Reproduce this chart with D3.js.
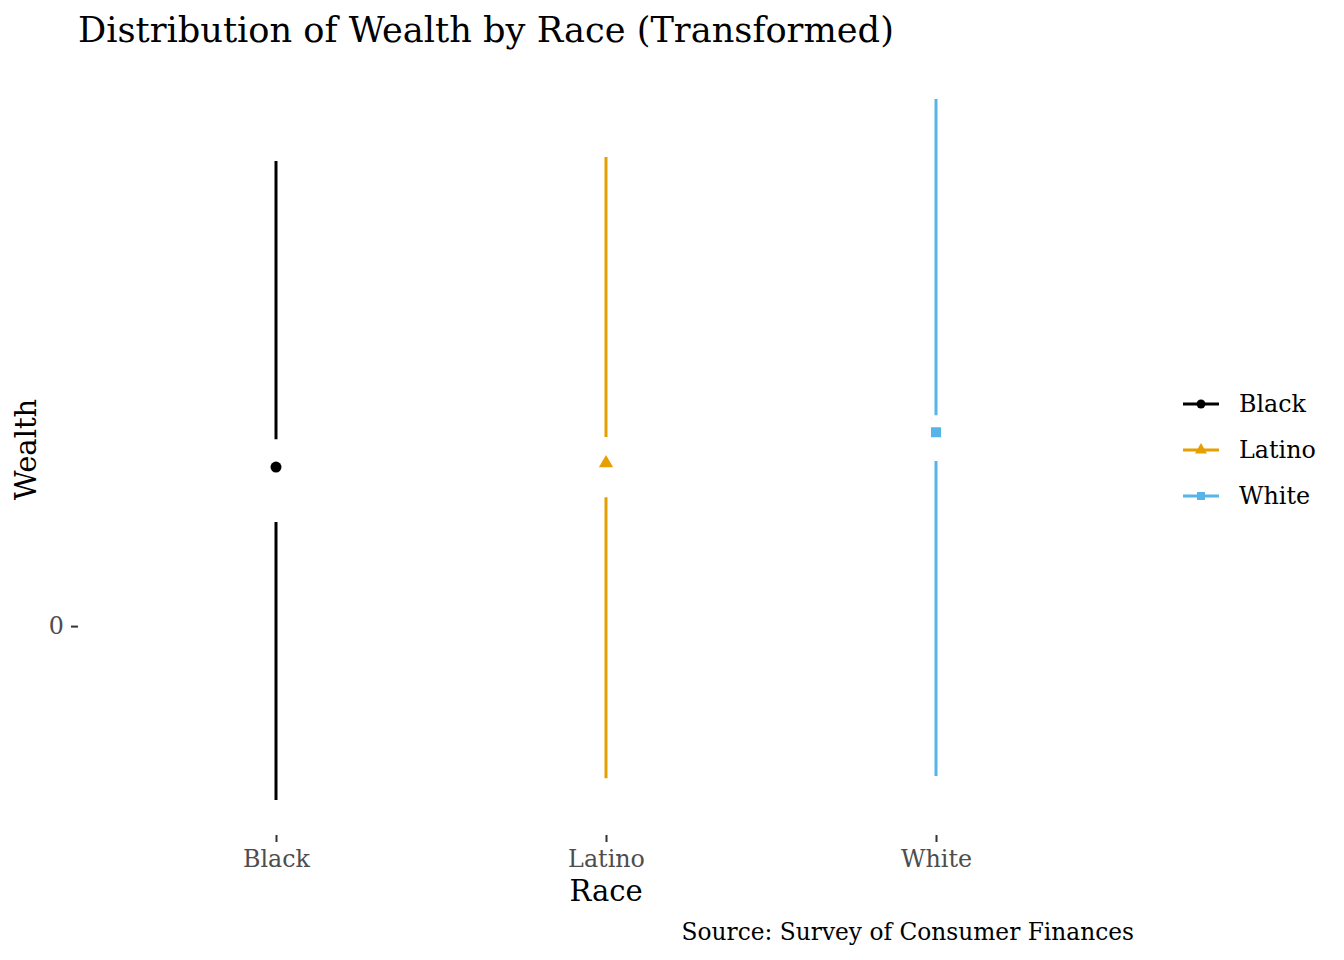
<!DOCTYPE html>
<html>
<head>
<meta charset="utf-8">
<script src="https://cdn.jsdelivr.net/npm/d3@7"></script>
<style>
  body { margin: 0; background: #fff; }
  svg text { font-family: "DejaVu Serif", serif; }
  .axis path.domain { display: none; }
  .axis line { stroke: #333; stroke-width: 2; }
  .axis text { fill: #4d4d4d; font-size: 23.8px; }
</style>
</head>
<body>
<svg id="chart" width="1344" height="960"></svg>
<script>
// transformed wealth, per race
let races = ['Black', 'Latino', 'White'];
let wealthMin = [-4.79, -4.19, -4.13];
let wealthQ1 = [2.87, 3.55, 4.55];
let wealthMedian = [4.38, 4.49, 5.34];
let wealthQ3 = [5.15, 5.21, 5.81];
let wealthMax = [12.81, 12.92, 14.52];
let yTicks = [0];

let colors = ['#000000', '#E69F00', '#56B4E9'];
let shapes = [d3.symbolCircle, d3.symbolTriangle, d3.symbolSquare];
let pointSize = [95, 88, 100],
  keySize = [62, 62, 64];

let margin = {left: 78, right: 210, top: 64, bottom: 125},
  width = 1344,
  height = 960;

let rows = races.map((r, i) => ({
  race: r, min: wealthMin[i], q1: wealthQ1[i], median: wealthMedian[i],
  q3: wealthQ3[i], max: wealthMax[i], color: colors[i], shape: shapes[i],
  size: pointSize[i], keySize: keySize[i]
}));

let lo = d3.min(wealthMin), hi = d3.max(wealthMax), pad = (hi - lo) * 0.05;

let x = d3.scalePoint()
  .domain(races)
  .range([margin.left, width - margin.right])
  .padding(0.6);

let y = d3.scaleLinear()
  .domain([lo - pad, hi + pad])
  .range([height - margin.bottom, margin.top]);

let svg = d3.select('#chart');

svg.append('text')
  .attr('x', margin.left)
  .attr('y', 42)
  .attr('font-size', 35.2)
  .attr('fill', '#000')
  .text('Distribution of Wealth by Race (Transformed)');

svg.append('g')
  .attr('class', 'axis axis--x')
  .attr('transform', `translate(0, ${height - margin.bottom})`)
  .call(d3.axisBottom(x).tickSize(7).tickPadding(8));

svg.append('g')
  .attr('class', 'axis axis--y')
  .attr('transform', `translate(${margin.left}, 0)`)
  .call(d3.axisLeft(y).tickValues(yTicks).tickFormat(d3.format('d')).tickSize(7).tickPadding(7));

let box = svg.append('g').attr('class', 'boxes')
  .selectAll('.box').data(rows)
  .enter().append('g')
  .attr('class', 'box')
  .attr('transform', d => `translate(${x(d.race)}, 0)`);

box.append('line')
  .attr('y1', d => y(d.max))
  .attr('y2', d => y(d.q3))
  .attr('stroke', d => d.color)
  .attr('stroke-width', 3);

box.append('line')
  .attr('y1', d => y(d.q1))
  .attr('y2', d => y(d.min))
  .attr('stroke', d => d.color)
  .attr('stroke-width', 3);

box.append('path')
  .attr('transform', d => `translate(0, ${y(d.median)})`)
  .attr('d', d => d3.symbol().type(d.shape).size(d.size)())
  .attr('fill', d => d.color);

svg.append('text')
  .attr('x', (margin.left + width - margin.right) / 2)
  .attr('y', 901)
  .attr('text-anchor', 'middle')
  .attr('font-size', 29)
  .attr('fill', '#000')
  .text('Race');

svg.append('text')
  .attr('transform', `translate(36, ${(margin.top + height - margin.bottom) / 2}) rotate(-90)`)
  .attr('text-anchor', 'middle')
  .attr('font-size', 29)
  .attr('fill', '#000')
  .text('Wealth');

svg.append('text')
  .attr('x', width - margin.right)
  .attr('y', 940)
  .attr('text-anchor', 'end')
  .attr('font-size', 23.3)
  .attr('fill', '#000')
  .text('Source: Survey of Consumer Finances');

let legend = svg.append('g')
  .attr('class', 'legend')
  .attr('transform', 'translate(1183, 404)');

let key = legend.selectAll('.key').data(rows)
  .enter().append('g')
  .attr('class', 'key')
  .attr('transform', (d, i) => `translate(0, ${i * 46})`);

key.append('line')
  .attr('x1', 0)
  .attr('x2', 36)
  .attr('stroke', d => d.color)
  .attr('stroke-width', 3);

key.append('path')
  .attr('transform', 'translate(18, 0)')
  .attr('d', d => d3.symbol().type(d.shape).size(d.keySize)())
  .attr('fill', d => d.color);

key.append('text')
  .attr('x', 56)
  .attr('dy', '0.35em')
  .attr('font-size', 23.8)
  .attr('fill', '#000')
  .text(d => d.race);
</script>
</body>
</html>
